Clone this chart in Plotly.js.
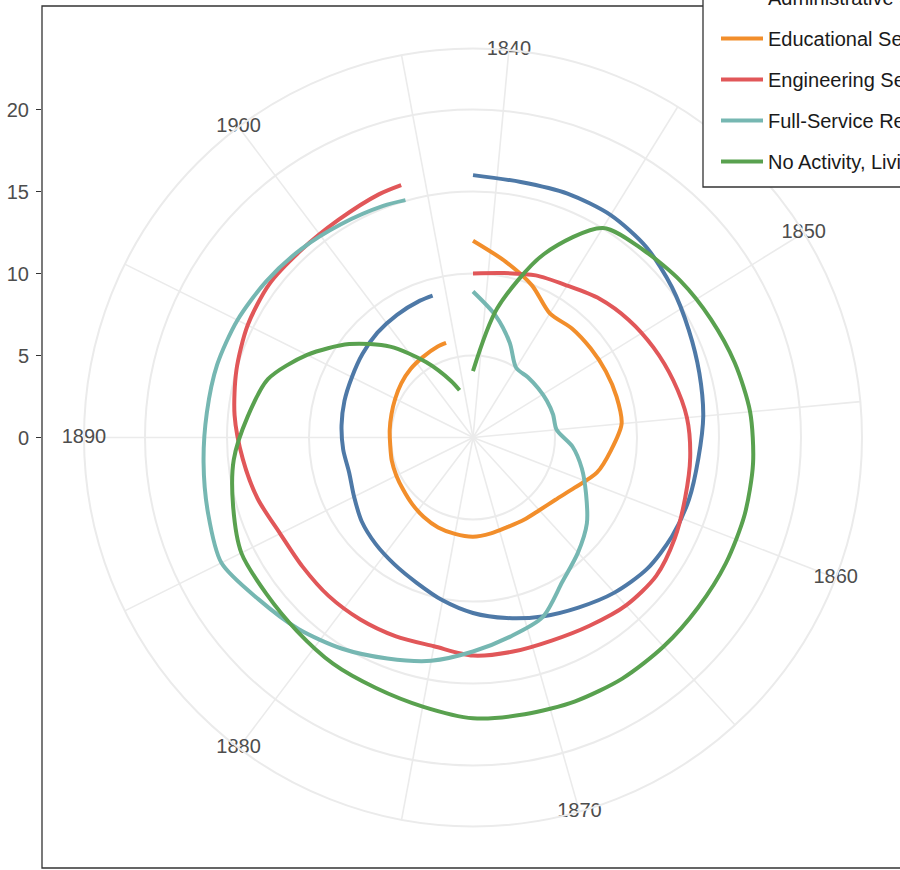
<!DOCTYPE html>
<html>
<head>
<meta charset="utf-8">
<script src="https://cdn.plot.ly/plotly-3.0.1.min.js"></script>
<style>
html, body { margin: 0; padding: 0; background: #ffffff; }
#chart { width: 900px; height: 870px; }
</style>
</head>
<body>
<div id="chart"></div>
<script>
// ---------------- data ----------------
const years = [1839,1841,1843,1845,1847,1849,1851,1853,1855,1857,1859,1861,1863,1865,1867,1869,1871,1873,1875,1877,1879,1881,1883,1885,1887,1889,1891,1893,1895,1897,1899,1901,1903,1904];

const administrative = [16.0,15.85,15.95,15.95,15.7,15.2,14.7,14.35,14.1,13.8,13.7,13.55,13.3,12.8,12.2,11.7,11.2,10.7,10.1,9.5,9.1,8.8,8.5,8.1,7.85,7.95,8.05,8.15,8.25,8.45,8.65,8.8,8.95,9.0];
const educational = [12.0,10.9,9.95,8.9,8.98,9.0,9.05,9.1,9.1,8.45,7.85,6.9,6.3,6.0,5.9,5.85,5.95,6.05,5.98,5.88,5.7,5.5,5.32,5.22,5.15,5.07,5.1,5.17,5.3,5.48,5.65,5.78,5.95,6.0];
const engineering = [10.0,10.2,10.6,10.9,11.45,11.9,12.3,12.7,13.1,13.3,13.45,13.75,14.0,13.85,13.5,13.28,13.28,13.3,12.95,13.0,13.05,13.07,13.04,13.14,13.65,14.1,14.6,15.0,15.35,15.55,15.5,15.6,15.9,16.0];
const fullService = [8.9,7.55,6.2,5.0,4.97,4.98,5.03,5.08,5.12,6.1,6.9,7.7,8.7,9.5,10.35,11.75,12.35,13.05,13.85,14.45,15.15,15.8,16.38,17.14,16.8,16.5,16.3,16.22,16.05,15.8,15.55,15.3,15.15,15.05];
const noActivity = [4.05,8.0,12.0,15.03,15.45,15.85,16.2,16.6,16.97,17.15,17.22,17.22,17.2,17.25,17.29,17.25,17.17,17.12,16.69,16.38,16.22,15.95,15.8,15.78,15.21,14.65,13.8,13.0,11.3,9.45,7.5,5.4,3.7,3.0];

const seriesNames = ["Administrative Services", "Educational Services", "Engineering Services", "Full-Service Restaurants", "No Activity, Living Persons"];
const seriesValues = [administrative, educational, engineering, fullService, noActivity];
const seriesColors = ["#4E79A7", "#F28E2B", "#E15759", "#76B7B2", "#59A14F"];

const thetaGridYears = [1840,1845,1850,1855,1860,1865,1870,1875,1880,1885,1890,1895,1900,1905];
const thetaLabelYears = [1840,1850,1860,1870,1880,1890,1900];
const thetaLabels = ["1840","1850","1860","1870","1880","1890","1900"];
const radialGrid = [5,10,15,20];
const radialTicks = [0,5,10,15,20];
const radialTickLabels = ["0","5","10","15","20"];

// ---------------- layout constants ----------------
const W = 900, H = 870;
const CX = 473, CY = 437.5, RADIUS = 389;     // polar centre and outer circle, px
const RMAX = 23.72;                            // value at the outer circle
const YEAR0 = 1839, YEAR_SPAN = 68;            // theta scale: year -> degrees
const FONT = "Liberation Sans, Arial, Helvetica, sans-serif";
const GRID = "#ebebeb";

const yearToDeg = y => (y - YEAR0) * 360 / YEAR_SPAN;

const traces = seriesNames.map((name, i) => ({
  type: "scatterpolar",
  mode: "lines",
  name: name,
  legendgroup: "g" + i,
  r: seriesValues[i],
  theta: years.map(yearToDeg),
  thetaunit: "degrees",
  line: { color: seriesColors[i], width: 4, shape: "spline", smoothing: 0.8 },
  subplot: "polar",
  hoverinfo: "skip"
}));

// theta labels sit on the outer circle, like ggplot's coord_polar
traces.push({
  type: "scatterpolar",
  mode: "text",
  r: thetaLabelYears.map(() => RMAX),
  theta: thetaLabelYears.map(yearToDeg),
  text: thetaLabels,
  textposition: "middle center",
  textfont: { family: FONT, size: 20, color: "#4d4d4d" },
  cliponaxis: false,
  showlegend: false,
  hoverinfo: "skip",
  subplot: "polar"
});

// carrier for the left radial axis
traces.push({ type: "scatter", x: [], y: [], xaxis: "x", yaxis: "y", showlegend: false, hoverinfo: "skip" });

const pxPerUnit = RADIUS / RMAX;

const layout = {
  width: W, height: H,
  margin: { l: 0, r: 0, t: 0, b: 0, autoexpand: false },
  paper_bgcolor: "#ffffff",
  plot_bgcolor: "rgba(0,0,0,0)",
  font: { family: FONT, size: 20, color: "#4d4d4d" },
  showlegend: true,
  polar: {
    domain: {
      x: [(CX - RADIUS) / W, (CX + RADIUS) / W],
      y: [(H - CY - RADIUS) / H, (H - CY + RADIUS) / H]
    },
    bgcolor: "rgba(0,0,0,0)",
    radialaxis: {
      range: [0, RMAX],
      tickvals: radialGrid,
      showticklabels: false,
      ticks: "",
      showline: false,
      gridcolor: GRID,
      gridwidth: 2
    },
    angularaxis: {
      thetaunit: "degrees",
      rotation: 90,
      direction: "clockwise",
      tickvals: thetaGridYears.map(yearToDeg),
      showticklabels: false,
      ticks: "",
      showline: true,
      linecolor: GRID,
      linewidth: 2,
      gridcolor: GRID,
      gridwidth: 1.6
    }
  },
  xaxis: {
    domain: [42 / W, 1],
    range: [0, 1],
    visible: false,
    fixedrange: true
  },
  yaxis: {
    domain: [0, 1],
    anchor: "x",
    range: [-(H - CY) / pxPerUnit, CY / pxPerUnit],
    tickvals: radialTicks,
    ticktext: radialTickLabels,
    ticks: "outside",
    ticklen: 5,
    tickwidth: 1.5,
    tickcolor: "#333333",
    ticklabelstandoff: 3,
    tickfont: { family: FONT, size: 20, color: "#4d4d4d" },
    showgrid: false,
    zeroline: false,
    showline: false,
    fixedrange: true
  },
  legend: {
    x: 716 / W, xanchor: "left",
    y: (H - 181) / H, yanchor: "bottom",
    bgcolor: "rgba(0,0,0,0)",
    borderwidth: 0,
    font: { family: FONT, size: 20, color: "#1a1a1a" },
    tracegroupgap: 12,
    traceorder: "grouped",
    itemwidth: 42
  },
  shapes: [
    { // panel border
      type: "rect", xref: "paper", yref: "paper",
      x0: 42 / W, x1: 1.02, y0: 2 / H, y1: (H - 6) / H,
      line: { color: "#333333", width: 1.3 },
      fillcolor: "rgba(0,0,0,0)",
      layer: "above"
    },
    { // legend box
      type: "rect", xref: "paper", yref: "paper",
      x0: 703 / W, x1: 1.05, y0: (H - 187) / H, y1: 1.05,
      line: { color: "#333333", width: 1.3 },
      fillcolor: "#ffffff",
      layer: "above"
    }
  ]
};

Plotly.newPlot("chart", traces, layout, { staticPlot: true, displayModeBar: false });
</script>
</body>
</html>
